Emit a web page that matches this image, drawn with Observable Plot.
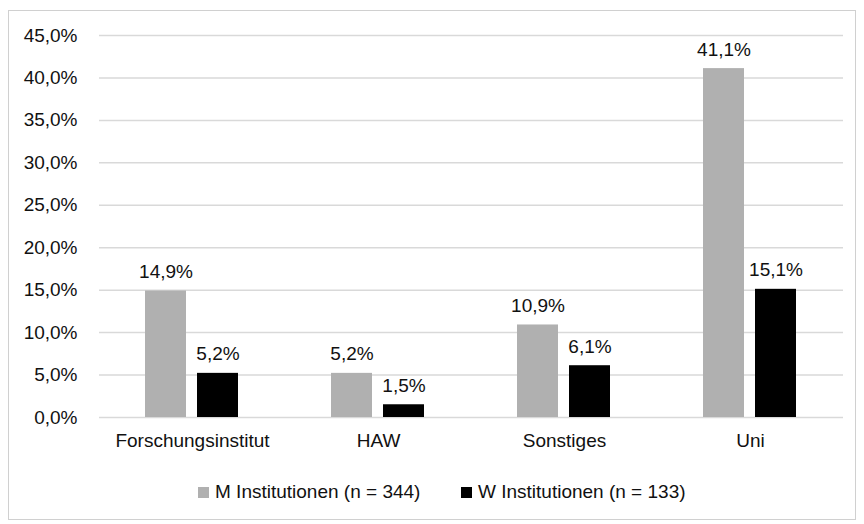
<!DOCTYPE html>
<html>
<head>
<meta charset="utf-8">
<script src="https://cdn.jsdelivr.net/npm/d3@7"></script>
<script src="https://cdn.jsdelivr.net/npm/@observablehq/plot@0.6"></script>
<style>
  html, body { margin: 0; padding: 0; background: #fff; }
  #wrap { position: relative; width: 864px; height: 524px; overflow: hidden; font-family: "Liberation Sans", Arial, sans-serif; }
  #frame { position: absolute; left: 8px; top: 10px; width: 848px; height: 510px; border: 1.5px solid #d0d0d0; box-sizing: border-box; }
  #chart { position: absolute; left: 0; top: 0; }
  #legend { position: absolute; left: 0; top: 480px; width: 864px; font-size: 19px; color: #111; }
  .item { position: absolute; top: 0; white-space: nowrap; line-height: 24px; }
  .sw { display: inline-block; width: 11px; height: 11px; margin-right: 6px; vertical-align: 0px; }
</style>
</head>
<body>
<div id="wrap">
  <div id="frame"></div>
  <div id="chart"></div>
  <div id="legend"></div>
</div>
<script>
const categories = ["Forschungsinstitut", "HAW", "Sonstiges", "Uni"];
const seriesNames = ["M Institutionen (n = 344)", "W Institutionen (n = 133)"];
const mValues = [14.9, 5.2, 10.9, 41.1];
const wValues = [5.2, 1.5, 6.1, 15.1];
const yTicks = [0, 5, 10, 15, 20, 25, 30, 35, 40, 45];
const colors = ["#b0b0b0", "#000000"];

const data = categories.flatMap((c, i) => [
  {cat: c, series: seriesNames[0], value: mValues[i]},
  {cat: c, series: seriesNames[1], value: wValues[i]}
]);
const fmt = v => v.toFixed(1).replace(".", ",") + "%";

const chart = Plot.plot({
  width: 864,
  height: 460,
  marginLeft: 98,
  marginRight: 20,
  marginTop: 35,
  marginBottom: 43,
  style: {fontFamily: "'Liberation Sans', Arial, sans-serif", fontSize: "19px", color: "#111", background: "transparent"},
  fx: {domain: categories, padding: 0, label: null, tickSize: 0, tickPadding: 16, axis: "bottom"},
  x: {domain: seriesNames, paddingInner: 0.2075, paddingOuter: 0.863, axis: null},
  y: {domain: [0, 45], ticks: yTicks, tickFormat: fmt, label: null, tickSize: 0, tickPadding: 22},
  color: {domain: seriesNames, range: colors},
  marks: [
    Plot.ruleY(yTicks, {stroke: "#d9d9d9", strokeWidth: 1.5}),
    Plot.barY(data, {fx: "cat", x: "series", y: "value", fill: "series"}),
    Plot.text(data, {fx: "cat", x: "series", y: "value", text: d => fmt(d.value), dy: -13, lineAnchor: "bottom", fill: "#111"})
  ]
});
document.getElementById("chart").appendChild(chart);

const legend = document.getElementById("legend");
const lx = [198, 461];
seriesNames.forEach((s, i) => {
  const it = document.createElement("div");
  it.className = "item";
  it.style.left = lx[i] + "px";
  it.innerHTML = `<span class="sw" style="background:${colors[i]}"></span>${s}`;
  legend.appendChild(it);
});
</script>
</body>
</html>
